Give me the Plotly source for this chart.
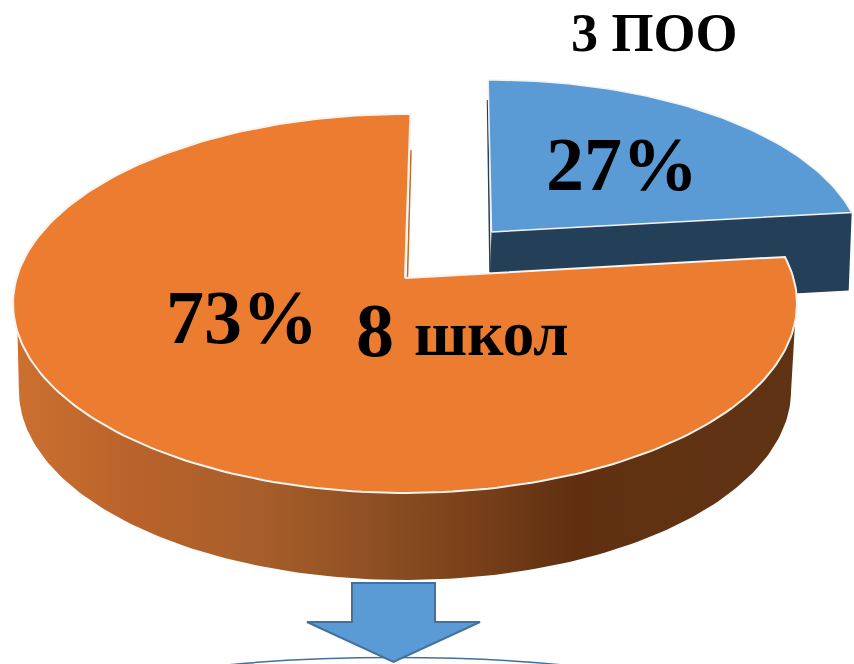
import numpy as np
import plotly.graph_objects as go

categories = ["3 ПОО", "8 школ"]
shares = [27, 73]

W, H = 854, 664
ORANGE, BLUE, DARK = "#EB7C30", "#5B9BD5", "#243F58"
FORESHORTEN = 0.858   # the picture's tilt narrows the first slice
START = [-0.6, 0.9]   # degrees

gamma, alpha, beta, A = 0.1346, -148.6, 278.0, 388.4


def project(theta, cx, sx=1.0, sy=1.0, cy=278.0, dy=0.0, scale=1.0):
    t = np.radians(theta)
    u, v = np.sin(t), np.cos(t)
    d = 1 + gamma * v
    x = cx + sx * scale * A * u / d
    y = cy + sy * ((alpha * v + beta) / d - beta) + dy
    return x, y


cut = shares[0] / sum(shares) * 360 * FORESHORTEN
th_blue = np.linspace(START[0], cut, 60)
th_orange = np.linspace(cut, 360 + START[1], 240)

BLUE_O = dict(cx=491.5, cy=232.0, sx=0.948, sy=0.927)
ORANGE_O = dict(cx=405.0, cy=278.0)

fig = go.Figure()

# blue slice: front wall, then top
bx, by = project(th_blue, **BLUE_O)
wx = [491.5, bx[-1], bx[-1] - 3, 488.5]
wy = [232.0, by[-1], by[-1] + 78, 232.0 + 78]
fig.add_trace(go.Scatter(x=wx + wx[:1], y=wy + wy[:1], mode="lines", fill="toself",
                         fillcolor=DARK, line=dict(width=0), hoverinfo="skip"))
fig.add_trace(go.Scatter(x=[490, 487.5], y=[272, 100], mode="lines",
                         line=dict(color=DARK, width=1.5), hoverinfo="skip"))
fig.add_trace(go.Scatter(x=[491.5, *bx, 491.5], y=[232.0, *by, 232.0], mode="lines",
                         fill="toself", fillcolor=BLUE, name=categories[0],
                         line=dict(color="#F2F2F2", width=1.5), hoverinfo="skip"))

# orange slice: curved wall with gradient, then top
th_rim = np.linspace(103.2, 253.8, 160)
th_low = np.linspace(97.7, 262.3, 160)
ox, oy = project(th_rim, **ORANGE_O)
lx, ly = project(th_low[::-1], **ORANGE_O, dy=87.0, scale=0.985)
fig.add_trace(go.Scatter(
    x=[*ox, *lx, ox[0]], y=[*oy, *ly, oy[0]], mode="lines", fill="toself",
    line=dict(width=0), hoverinfo="skip",
    fillgradient=dict(type="horizontal", colorscale=[
        [0.0, "#CB7030"], [0.15, "#B9622A"], [0.3, "#A95F2A"], [0.45, "#8F5023"],
        [0.6, "#763F19"], [0.72, "#5F2F10"], [0.85, "#613313"], [1.0, "#5E3213"]]),
))
fig.add_trace(go.Scatter(x=[407.5, 411], y=[277, 150], mode="lines",
                         line=dict(color="#C0692B", width=1.5), hoverinfo="skip"))
tx, ty = project(th_orange, **ORANGE_O)
fig.add_trace(go.Scatter(x=[405.0, *tx, 405.0], y=[278.0, *ty, 278.0], mode="lines",
                         fill="toself", fillcolor=ORANGE, name=categories[1],
                         line=dict(color="#F7F3EE", width=2), hoverinfo="skip"))

serif = "Liberation Serif"


def label(x, y, text, size):
    fig.add_annotation(x=x, y=y, text=f"<b>{text}</b>", showarrow=False,
                       xanchor="center", yanchor="middle",
                       font=dict(family=serif, size=size, color="#000000"))


label(654, 33, categories[0], 54)
label(622, 164, f"{shares[0]}%", 76)
label(242, 317, f"{shares[1]}%", 76)
label(375, 330, "8", 76)
label(491, 334, "школ", 63)

edge = dict(color="#41719C", width=2)
shapes = [
    dict(type="circle", xref="x", yref="y", x0=65, x1=725, y0=657.5, y1=767.5,
         line=dict(color="#41719C", width=1.5), layer="above"),
    dict(type="path", xref="x", yref="y", layer="above", fillcolor=BLUE, line=edge,
         path="M352,583 L435,583 L435,622 L480,622 L393.5,662 L307,622 L352,622 Z"),
]

fig.update_layout(
    width=W, height=H, margin=dict(l=0, r=0, t=0, b=0), showlegend=False,
    paper_bgcolor="white", plot_bgcolor="white", shapes=shapes,
    xaxis=dict(range=[0, W], visible=False, fixedrange=True),
    yaxis=dict(range=[H, 0], visible=False, fixedrange=True),
)
fig.write_html("out.html", config={"displayModeBar": False},
               post_script="document.body.style.margin='0';")
